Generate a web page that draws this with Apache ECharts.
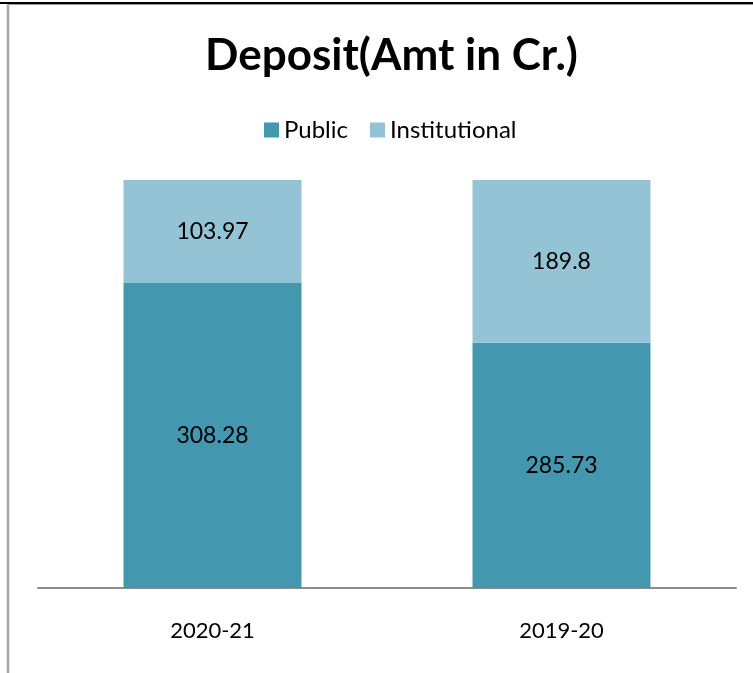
<!DOCTYPE html>
<html>
<head>
<meta charset="utf-8">
<script src="https://cdn.jsdelivr.net/npm/echarts@6/dist/echarts.min.js"></script>
<style>
  html, body { margin: 0; padding: 0; background: #fff; }
  #chart { width: 753px; height: 673px; }
</style>
</head>
<body>
<div id="chart"></div>
<script>
// Deposit amounts (in Crore) per financial year
const categories = ['2020-21', '2019-20'];
const publicDeposits = [308.28, 285.73];
const institutionalDeposits = [103.97, 189.8];
const seriesNames = ['Public', 'Institutional'];

// 100% stacked: each bar segment is its share of the year's total
const totals = categories.map((_, i) => publicDeposits[i] + institutionalDeposits[i]);
const toShare = arr => arr.map((v, i) => ({ value: v / totals[i] * 100, raw: v }));

const FONT = 'Lato';
const chart = echarts.init(document.getElementById('chart'), null, { renderer: 'canvas' });

const labelOpt = {
  show: true,
  position: 'inside',
  color: '#000',
  fontFamily: FONT,
  fontSize: 23,
  formatter: p => String(p.data.raw)
};

chart.setOption({
  animation: false,
  backgroundColor: '#fff',
  title: {
    text: 'Deposit(Amt in Cr.)',
    left: 200,
    top: 29,
    textStyle: { fontFamily: FONT, fontWeight: 'bold', fontSize: 44, color: '#000' }
  },
  legend: {
    data: seriesNames,
    top: 113,
    left: 259,
    itemWidth: 15,
    itemHeight: 15,
    itemGap: 22,
    icon: 'rect',
    textStyle: { fontFamily: FONT, fontSize: 24, color: '#000' }
  },
  grid: { left: 38, right: 17, top: 180, bottom: 85, containLabel: false },
  xAxis: {
    type: 'category',
    data: categories,
    axisLine: { lineStyle: { color: '#8c8c8c', width: 2 } },
    axisTick: { show: false },
    axisLabel: { fontFamily: FONT, fontSize: 22, color: '#000', margin: 32 }
  },
  yAxis: {
    type: 'value',
    min: 0,
    max: 100,
    show: false,
    splitLine: { show: false }
  },
  series: [
    {
      name: seriesNames[0],
      type: 'bar',
      stack: 'total',
      barWidth: '51%',
      itemStyle: { color: '#4398b0' },
      label: labelOpt,
      data: toShare(publicDeposits)
    },
    {
      name: seriesNames[1],
      type: 'bar',
      stack: 'total',
      barWidth: '51%',
      itemStyle: { color: '#93c3d5' },
      label: labelOpt,
      data: toShare(institutionalDeposits)
    }
  ],
  graphic: [
    { type: 'line', shape: { x1: 0, y1: 3, x2: 753, y2: 3 }, style: { stroke: '#000', lineWidth: 2 } },
    { type: 'line', shape: { x1: 7, y1: 4.5, x2: 753, y2: 4.5 }, style: { stroke: '#9a9a9a', lineWidth: 1 } },
    { type: 'line', shape: { x1: 8, y1: 4, x2: 8, y2: 673 }, style: { stroke: '#a6a6a6', lineWidth: 2.5 } }
  ]
});
</script>
</body>
</html>
